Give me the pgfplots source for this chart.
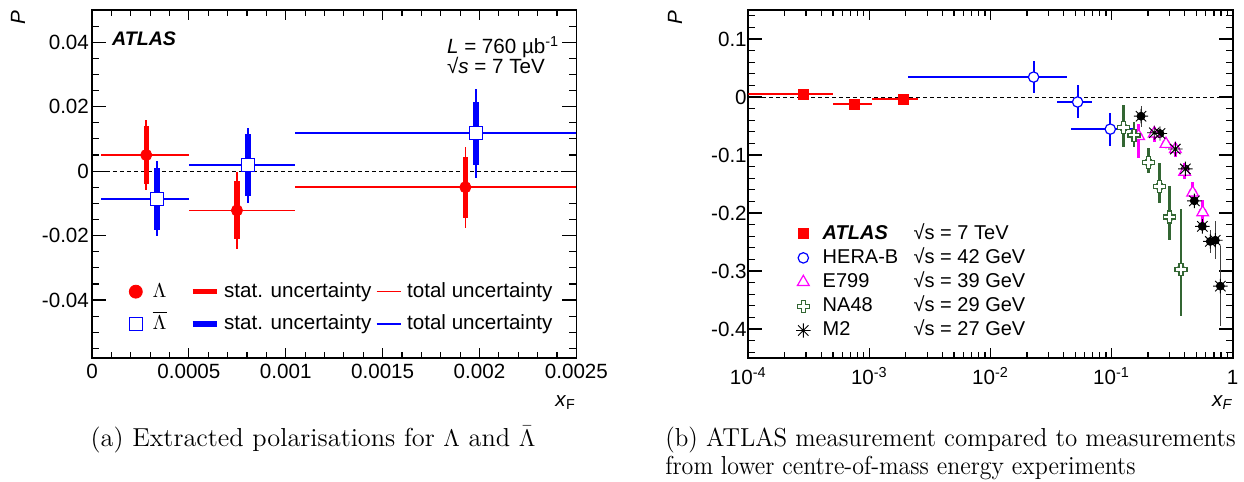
\documentclass[border=0pt]{standalone}
\usepackage{fontspec}
\newfontfamily\arial{Liberation Sans}
\usepackage{pgfplots}
\usepackage{pgfplotstable}
\pgfplotsset{compat=1.18}
\definecolor{rootred}{rgb}{1,0,0}
\definecolor{rootblue}{rgb}{0,0,1}
\definecolor{rootmag}{rgb}{1,0,1}
\definecolor{rootgreen}{rgb}{0.2,0.4,0.2}

\pgfdeclareplotmark{ocross}{%
  \pgfpathmoveto{\pgfpoint{-0.33\pgfplotmarksize}{\pgfplotmarksize}}%
  \pgfpathlineto{\pgfpoint{0.33\pgfplotmarksize}{\pgfplotmarksize}}%
  \pgfpathlineto{\pgfpoint{0.33\pgfplotmarksize}{0.33\pgfplotmarksize}}%
  \pgfpathlineto{\pgfpoint{\pgfplotmarksize}{0.33\pgfplotmarksize}}%
  \pgfpathlineto{\pgfpoint{\pgfplotmarksize}{-0.33\pgfplotmarksize}}%
  \pgfpathlineto{\pgfpoint{0.33\pgfplotmarksize}{-0.33\pgfplotmarksize}}%
  \pgfpathlineto{\pgfpoint{0.33\pgfplotmarksize}{-\pgfplotmarksize}}%
  \pgfpathlineto{\pgfpoint{-0.33\pgfplotmarksize}{-\pgfplotmarksize}}%
  \pgfpathlineto{\pgfpoint{-0.33\pgfplotmarksize}{-0.33\pgfplotmarksize}}%
  \pgfpathlineto{\pgfpoint{-\pgfplotmarksize}{-0.33\pgfplotmarksize}}%
  \pgfpathlineto{\pgfpoint{-\pgfplotmarksize}{0.33\pgfplotmarksize}}%
  \pgfpathlineto{\pgfpoint{-0.33\pgfplotmarksize}{0.33\pgfplotmarksize}}%
  \pgfpathclose
  \pgfusepathqfillstroke}
\pgfdeclareplotmark{rootstar}{%
  \pgfpathmoveto{\pgfpoint{-\pgfplotmarksize}{0pt}}\pgfpathlineto{\pgfpoint{\pgfplotmarksize}{0pt}}%
  \pgfpathmoveto{\pgfpoint{0pt}{-\pgfplotmarksize}}\pgfpathlineto{\pgfpoint{0pt}{\pgfplotmarksize}}%
  \pgfpathmoveto{\pgfpoint{-0.72\pgfplotmarksize}{-0.72\pgfplotmarksize}}\pgfpathlineto{\pgfpoint{0.72\pgfplotmarksize}{0.72\pgfplotmarksize}}%
  \pgfpathmoveto{\pgfpoint{-0.72\pgfplotmarksize}{0.72\pgfplotmarksize}}\pgfpathlineto{\pgfpoint{0.72\pgfplotmarksize}{-0.72\pgfplotmarksize}}%
  \pgfusepathqstroke}

% Left panel: x y xp xm statp statm totp totm
\pgfplotstableread{
x y xp xm sp sm tp tm
0.00028 0.0050 0.00022 0.000232 0.0090 0.0090 0.0109 0.0110
0.000748 -0.0122 0.000302 0.000248 0.0090 0.0090 0.0118 0.0119
0.001927 -0.0050 0.000573 0.000877 0.0095 0.0096 0.0126 0.0126
}\lamtab
\pgfplotstableread{
x y xp xm sp sm tp tm
0.000335 -0.0087 0.000165 0.000287 0.0098 0.0096 0.0117 0.0115
0.000805 0.0019 0.000245 0.000305 0.0095 0.0097 0.0116 0.0118
0.001982 0.0118 0.000518 0.000932 0.0097 0.0099 0.0136 0.0138
}\alamtab
% Right panel
\pgfplotstableread{
x y xp xm yp ym
2.85e-4 0.0046 2.15e-4 2.37e-4 0.006 0.006
7.52e-4 -0.0126 2.98e-4 2.52e-4 0.006 0.006
1.91e-3 -0.0040 5.9e-4 8.6e-4 0.006 0.006
}\atlastab
\pgfplotstableread{
x y xp xm yp ym
0.0227 0.0343 0.0200 0.0206 0.0274 0.0280
0.0524 -0.0086 0.0164 0.0171 0.0292 0.0280
0.0975 -0.0554 0.0515 0.0514 0.0285 0.0286
}\herabtab
\pgfplotstableread{
x y yp ym
0.167 -0.0674 0.020 0.038
0.225 -0.0630 0.012 0.014
0.281 -0.0810 0.006 0.006
0.336 -0.0900 0.010 0.013
0.401 -0.1290 0.015 0.013
0.467 -0.1650 0.019 0.015
0.565 -0.1990 0.022 0.018
}\etab
\pgfplotstableread{
x y yp ym
0.1257 -0.0530 0.0387 0.0327
0.153 -0.0657 0.0223 0.0200
0.202 -0.1126 0.0240 0.0184
0.249 -0.1540 0.0410 0.0290
0.302 -0.2070 0.0530 0.0390
0.374 -0.2970 0.1040 0.0800
}\natab
\pgfplotstableread{
x y yp ym
0.175 -0.0331 0.018 0.018
0.225 -0.0617 0.008 0.008
0.251 -0.0630 0.008 0.008
0.336 -0.0897 0.008 0.008
0.406 -0.1240 0.010 0.010
0.482 -0.1790 0.010 0.010
0.561 -0.2230 0.012 0.012
0.653 -0.2490 0.020 0.020
0.719 -0.2470 0.033 0.033
0.791 -0.3260 0.069 0.068
}\mtab

\newcommand{\chartfont}{\arial\fontsize{10.3}{12}\selectfont}
\pgfplotsset{
  rootaxis/.style={
    scale only axis, width=242.2pt, height=174pt,
    axis line style={line width=0.8pt},
    tick align=inside,
    major tick length=7pt, minor tick length=3.5pt,
    every tick/.append style={black, line width=0.6pt},
    every major x tick/.append style={/pgfplots/major tick length=5pt},
    every minor x tick/.append style={/pgfplots/minor tick length=2.8pt},
    tick label style={font=\chartfont},
    xticklabel style={anchor=base, inner sep=0pt},
    yticklabel style={anchor=east, inner sep=0pt},
    label style={font=\chartfont},
    xlabel style={at={(axis description cs:1,0)}, anchor=north east, inner sep=0pt, yshift=-18.5pt},
    scaled x ticks=false, scaled y ticks=false,
  },
  legmark/.style={legend image code/.code={\draw[##1] plot coordinates {(3.25pt,0pt)}; \path (0pt,0pt) (11pt,0pt);}},
  legbar/.style={legend image code/.code={\draw[##1] (0pt,0pt) -- (12.15pt,0pt); \path (13.85pt,0pt);}},
  legline/.style={legend image code/.code={\draw[##1] (0pt,0pt) -- (12.15pt,0pt); \path (14.35pt,0pt);}},
  rightleg/.style={legend image code/.code={\draw[##1] plot coordinates {(0pt,0pt)}; \path (-3pt,0pt) (9pt,0pt);}},
}

\begin{document}
\begin{tikzpicture}
\useasboundingbox (0,0) rectangle (622pt,-241pt);
% ---------------- left panel ----------------
\begin{axis}[rootaxis, at={(46pt,-5pt)}, anchor=north west,
  xmin=0, xmax=0.0025, ymin=-0.058, ymax=0.05,
  xtick={0,0.0005,0.001,0.0015,0.002,0.0025},
  xticklabels={0,0.0005,0.001,0.0015,0.002,0.0025},
  minor xtick={0.0001,0.0002,0.0003,0.0004,0.0006,0.0007,0.0008,0.0009,0.0011,0.0012,0.0013,0.0014,0.0016,0.0017,0.0018,0.0019,0.0021,0.0022,0.0023,0.0024},
  ytick={-0.04,-0.02,0,0.02,0.04},
  yticklabels={-0.04,-0.02,0,0.02,0.04},
  minor ytick={-0.055,-0.05,-0.045,-0.035,-0.03,-0.025,-0.015,-0.01,-0.005,0.005,0.01,0.015,0.025,0.03,0.035,0.045},
  xticklabel style={yshift=-10pt},
  yticklabel style={xshift=-1.35pt},
  xlabel={\textit{x}\textsubscript{F}},
  ylabel={\textit{P}},
  ylabel style={at={(axis description cs:-0.1528,1)}, anchor=east, inner sep=0pt},
  legend columns=3,
  legend style={at={(axis description cs:0.0754,0.222)}, anchor=north west, draw=none, fill=none,
    inner sep=0pt, font=\chartfont, row sep=5.6pt, /tikz/column sep=0pt,
    cells={anchor=west}, nodes={inner sep=0.5pt, text height=0.75em, text depth=0.2em}},
]
\addplot[black, dash pattern=on 2pt off 1.5pt, line width=0.4pt, forget plot] coordinates {(0,0) (0.0025,0)};
% Lambda total
\addplot[rootred, only marks, mark=none, forget plot,
  error bars/.cd, x dir=both, x explicit, y dir=both, y explicit, error mark=none,
  error bar style={rootred, line width=0.8pt}]
  table[x=x, y=y, x error plus=xp, x error minus=xm, y error plus=tp, y error minus=tm]{\lamtab};
\addplot[rootred, only marks, mark=none, forget plot,
  error bars/.cd, y dir=both, y explicit, error mark=none,
  error bar style={rootred, line width=2.7pt}]
  table[x=x, y=y, y error plus=sp, y error minus=sm]{\lamtab};
\addplot[rootred, only marks, mark=*, mark size=2.8pt, forget plot] table[x=x, y=y]{\lamtab};
% anti-Lambda
\addplot[rootblue, only marks, mark=none, forget plot,
  error bars/.cd, x dir=both, x explicit, y dir=both, y explicit, error mark=none,
  error bar style={rootblue, line width=0.8pt}]
  table[x=x, y=y, x error plus=xp, x error minus=xm, y error plus=tp, y error minus=tm]{\alamtab};
\addplot[rootblue, only marks, mark=none, forget plot,
  error bars/.cd, y dir=both, y explicit, error mark=none,
  error bar style={rootblue, line width=2.7pt}]
  table[x=x, y=y, y error plus=sp, y error minus=sm]{\alamtab};
\addplot[rootblue, only marks, mark=square*, mark size=3.2pt, mark options={fill=white, draw=rootblue, line width=0.7pt}, forget plot] table[x=x, y=y]{\alamtab};
% legend
\addlegendimage{only marks, mark=*, mark size=3.25pt, rootred, legmark}
\addlegendentry{\makebox[18.15pt][l]{$\Lambda$}}
\addlegendimage{rootred, line width=2.7pt, legbar}
\addlegendentry{\makebox[75.35pt][l]{stat. uncertainty}}
\addlegendimage{draw=rootred, line width=0.8pt, legline}
\addlegendentry{total uncertainty}
\addlegendimage{only marks, mark=square*, mark size=3.2pt, mark options={fill=white, draw=rootblue, line width=0.7pt}, rootblue, legmark}
\addlegendentry{\makebox[18.15pt][l]{$\overline{\Lambda}$}}
\addlegendimage{rootblue, line width=2.7pt, legbar}
\addlegendentry{\makebox[75.35pt][l]{stat. uncertainty}}
\addlegendimage{draw=rootblue, line width=0.8pt, legline}
\addlegendentry{total uncertainty}
\node[anchor=base west, inner sep=0pt, font=\arial\bfseries\itshape\fontsize{9.8}{12}\selectfont] at (axis description cs:0.0407,0.8994) {ATLAS};
\node[anchor=base west, inner sep=0pt, font=\chartfont] at (axis description cs:0.7322,0.8756) {\textit{L} = 760 µb\textsuperscript{-1}};
\node[anchor=base west, inner sep=0pt, font=\chartfont] at (axis description cs:0.7322,0.818) {√\textit{s} = 7 TeV};
\end{axis}
% ---------------- right panel ----------------
\begin{axis}[rootaxis, at={(374.15pt,-5pt)}, anchor=north west,
  xmode=log, xmin=1e-4, xmax=1, ymin=-0.45, ymax=0.15,
  xtick={1e-4,1e-3,1e-2,1e-1,1},
  xticklabels={10\textsuperscript{-4},10\textsuperscript{-3},10\textsuperscript{-2},10\textsuperscript{-1},1},
  minor xtick={2e-4,3e-4,4e-4,5e-4,6e-4,7e-4,8e-4,9e-4,2e-3,3e-3,4e-3,5e-3,6e-3,7e-3,8e-3,9e-3,2e-2,3e-2,4e-2,5e-2,6e-2,7e-2,8e-2,9e-2,0.2,0.3,0.4,0.5,0.6,0.7,0.8,0.9},
  ytick={-0.4,-0.3,-0.2,-0.1,0,0.1},
  yticklabels={-0.4,-0.3,-0.2,-0.1,0,0.1},
  minor ytick={-0.44,-0.42,-0.38,-0.36,-0.34,-0.32,-0.28,-0.26,-0.24,-0.22,-0.18,-0.16,-0.14,-0.12,-0.08,-0.06,-0.04,-0.02,0.02,0.04,0.06,0.08,0.12,0.14},
  xticklabel style={yshift=-13.5pt},
  yticklabel style={xshift=-0.6pt},
  xlabel={\textit{x\textsubscript{F}}},
  ylabel={\textit{P}},
  ylabel style={at={(axis description cs:-0.1513,1)}, anchor=east, inner sep=0pt},
  legend style={at={(axis description cs:0.0979,0.3885)}, anchor=north west, draw=none, fill=none,
    inner sep=0pt, font=\arial\fontsize{10}{12}\selectfont, row sep=1.6pt, /tikz/column sep=0pt,
    cells={anchor=west}, nodes={inner sep=0.5pt, text height=0.75em, text depth=0.2em}},
  rightleg,
]
\addplot[black, dash pattern=on 2pt off 1.5pt, line width=0.4pt, forget plot] coordinates {(1e-4,0) (1,0)};
% error bars
\addplot[rootred, only marks, mark=none, forget plot,
  error bars/.cd, x dir=both, x explicit, y dir=both, y explicit, error mark=none,
  error bar style={rootred, line width=1pt}]
  table[x=x, y=y, x error plus=xp, x error minus=xm, y error plus=yp, y error minus=ym]{\atlastab};
\addplot[rootblue, only marks, mark=none, forget plot,
  error bars/.cd, x dir=both, x explicit, y dir=both, y explicit, error mark=none,
  error bar style={rootblue, line width=1.1pt}]
  table[x=x, y=y, x error plus=xp, x error minus=xm, y error plus=yp, y error minus=ym]{\herabtab};
\addplot[rootgreen, only marks, mark=none, forget plot,
  error bars/.cd, y dir=both, y explicit, error mark=none,
  error bar style={rootgreen, line width=1.3pt}]
  table[x=x, y=y, y error plus=yp, y error minus=ym]{\natab};
\addplot[rootmag, only marks, mark=none, forget plot,
  error bars/.cd, y dir=both, y explicit, error mark=none,
  error bar style={rootmag, line width=1.3pt}]
  table[x=x, y=y, y error plus=yp, y error minus=ym]{\etab};
\addplot[black, only marks, mark=none, forget plot,
  error bars/.cd, y dir=both, y explicit, error mark=none,
  error bar style={black!75, line width=0.5pt}]
  table[x=x, y=y, y error plus=yp, y error minus=ym]{\mtab};
% markers
\addplot[rootred, only marks, mark=square*, mark size=2.6pt] table[x=x, y=y]{\atlastab};
\addlegendentry{\makebox[45.5pt][l]{\bfseries\itshape ATLAS}√s = 7 TeV}
\addplot[rootblue, only marks, mark=*, mark size=2.6pt, mark options={fill=white, draw=rootblue, line width=0.6pt}] table[x=x, y=y]{\herabtab};
\addlegendentry{\makebox[45.5pt][l]{HERA-B}√s = 42 GeV}
\addplot[rootmag, only marks, mark=triangle*, mark size=3.4pt, mark options={fill=white, draw=rootmag, line width=0.6pt}] table[x=x, y=y]{\etab};
\addlegendentry{\makebox[45.5pt][l]{E799}√s = 39 GeV}
\addplot[rootgreen, only marks, mark=ocross, mark size=3pt, mark options={fill=white, draw=rootgreen, line width=0.6pt}] table[x=x, y=y]{\natab};
\addlegendentry{\makebox[45.5pt][l]{NA48}√s = 29 GeV}
\addplot[black, only marks, mark=rootstar, mark size=3.6pt, mark options={line width=0.45pt}] table[x=x, y=y]{\mtab};
\addlegendentry{\makebox[45.5pt][l]{M2}√s = 27 GeV}
\end{axis}
% captions
\node[anchor=base, inner sep=0pt, font=\fontsize{13}{15}\selectfont] at (156.5pt,-223pt) {\scalebox{1.014}[1]{(a) Extracted polarisations for $\Lambda$ and $\bar{\Lambda}$}};
\node[anchor=base west, inner sep=0pt, font=\fontsize{13}{15}\selectfont] at (332.5pt,-223pt) {\scalebox{0.96}[1]{(b) ATLAS measurement compared to measurements}};
\node[anchor=base west, inner sep=0pt, font=\fontsize{13}{15}\selectfont] at (332.5pt,-237pt) {\scalebox{0.924}[1]{from lower centre-of-mass energy experiments}};
\end{tikzpicture}
\end{document}
